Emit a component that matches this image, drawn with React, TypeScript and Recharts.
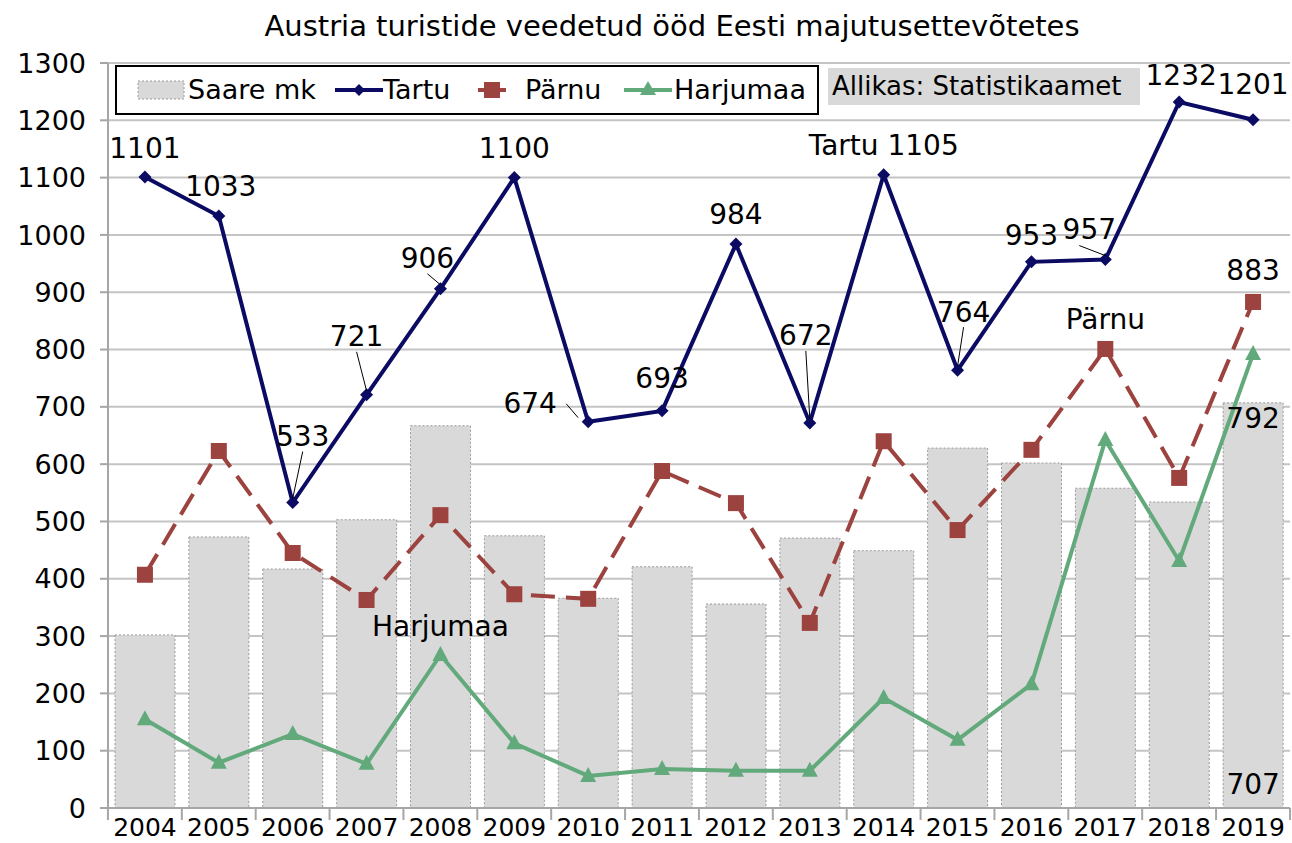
import React from "react";
import {
  ComposedChart,
  Bar,
  Line,
  XAxis,
  YAxis,
  CartesianGrid,
  Legend,
  LabelList,
} from "recharts";

const years = ["2004","2005","2006","2007","2008","2009","2010","2011","2012","2013","2014","2015","2016","2017","2018","2019"];
const saare = [302, 473, 417, 503, 667, 475, 366, 421, 356, 471, 449, 628, 602, 558, 534, 707];
const tartu = [1101, 1033, 533, 721, 906, 1100, 674, 693, 984, 672, 1105, 764, 953, 957, 1232, 1201];
const parnu = [407, 623, 445, 363, 511, 373, 365, 588, 532, 323, 640, 485, 625, 801, 576, 883];
const harju = [155, 79, 129, 77, 267, 113, 56, 68, 65, 65, 192, 119, 216, 642, 431, 792];
const yTicks = [0,100,200,300,400,500,600,700,800,900,1000,1100,1200,1300];

const data = years.map((y, i) => ({
  year: y,
  saare: saare[i],
  tartu: tartu[i],
  parnu: parnu[i],
  harju: harju[i],
}));

const FONT = "'DejaVu Sans', sans-serif";
const C_TARTU = "#0b0b63";
const C_PARNU = "#9c423f";
const C_HARJU = "#62a97b";
const C_BAR = "#d9d9d9";
const FS = 28;

// label placement: [dx, dy, leader]
const tartuLabelPos: [number, number, boolean][] = [
  [0, -29, false], [2, -30, false], [10, -66, true], [-10, -58, true],
  [-13, -30, true], [0, -29, false], [-58, -18, true], [0, -32, false],
  [0, -30, false], [-4, -87, true], [0, -29, false], [6, -58, true],
  [0, -26, false], [-16, -30, true], [2, -26, false], [0, -35, false],
];

const Diamond = (props: any) => {
  const { cx, cy } = props;
  if (cx == null || cy == null) return null;
  const s = 6.5;
  return <polygon points={`${cx},${cy - s} ${cx + s},${cy} ${cx},${cy + s} ${cx - s},${cy}`} fill={C_TARTU} />;
};
const Square = (props: any) => {
  const { cx, cy } = props;
  if (cx == null || cy == null) return null;
  return <rect x={cx - 8} y={cy - 8} width={16} height={16} fill={C_PARNU} />;
};
const Triangle = (props: any) => {
  const { cx, cy } = props;
  if (cx == null || cy == null) return null;
  return <polygon points={`${cx},${cy - 9} ${cx + 8},${cy + 6} ${cx - 8},${cy + 6}`} fill={C_HARJU} />;
};

const T = (p: { x: number; y: number; children: any }) => (
  <text x={p.x} y={p.y} textAnchor="middle" dominantBaseline="central" fontFamily={FONT} fontSize={FS} fill="#000">{p.children}</text>
);

const tartuLabel = (props: any) => {
  const { x, y, value, index } = props;
  const [dx, dy, leader] = tartuLabelPos[index];
  const text = index === 10 ? `Tartu ${value}` : `${value}`;
  const lx = x + dx;
  const ly = y + dy;
  let line = null;
  if (leader) {
    let x1 = lx, y1 = ly + 15;
    if (index === 6) { x1 = lx + 36; y1 = ly; }
    if (index === 13) { x1 = lx - 10; y1 = ly + 16; }
    line = <line x1={x1} y1={y1} x2={x - (index === 6 ? 10 : 0)} y2={y - 4} stroke="#000" strokeWidth={1} />;
  }
  return (
    <g>
      {line}
      <T x={lx} y={ly}>{text}</T>
    </g>
  );
};

const parnuLabel = (props: any) => {
  const { x, y, value, index } = props;
  if (index === 13) return <T x={x} y={y - 29}>Pärnu</T>;
  if (index === 15) return <T x={x} y={y - 31}>{value}</T>;
  return null;
};

const harjuLabel = (props: any) => {
  const { x, y, value, index } = props;
  if (index === 4) return <T x={x} y={y - 28}>Harjumaa</T>;
  if (index === 15) return <T x={x} y={y + 64}>{value}</T>;
  return null;
};

const barLabel = (props: any) => {
  const { x, y, width, height, value, index } = props;
  if (index !== 15) return null;
  return <T x={x + width / 2} y={y + height - 24}>{value}</T>;
};

const XTick = (props: any) => {
  const { x, y, payload, index } = props;
  const half = 37;
  return (
    <g>
      <line x1={x - half} y1={y - 8} x2={x - half} y2={y + 4} stroke="#a6a6a6" strokeWidth={2} />
      {index === years.length - 1 && <line x1={x + half} y1={y - 8} x2={x + half} y2={y + 4} stroke="#a6a6a6" strokeWidth={2} />}
      <text x={x} y={y + 11} textAnchor="middle" dominantBaseline="central" fontFamily={FONT} fontSize={25} fill="#000">{payload.value}</text>
    </g>
  );
};

const legText: React.CSSProperties = { position: "absolute", top: 0, lineHeight: "46px", whiteSpace: "nowrap" };

const LegendBox = () => (
  <div style={{
    position: "absolute", left: 115, top: 65, width: 700, height: 46,
    border: "2px solid #000", background: "#fff",
    fontFamily: FONT, fontSize: 27, color: "#000", boxSizing: "content-box",
  }}>
    <svg width={50} height={24} style={{ position: "absolute", left: 20, top: 11 }}>
      <rect x={1} y={3} width={46} height={18} fill={C_BAR} stroke="#9a9a9a" strokeDasharray="2 2" />
    </svg>
    <span style={{ ...legText, left: 71 }}>Saare mk</span>
    <svg width={50} height={24} style={{ position: "absolute", left: 217, top: 11 }}>
      <line x1={1} y1={12} x2={49} y2={12} stroke={C_TARTU} strokeWidth={4} />
      <polygon points="25,6 31,12 25,18 19,12" fill={C_TARTU} />
    </svg>
    <span style={{ ...legText, left: 266 }}>Tartu</span>
    <svg width={30} height={24} style={{ position: "absolute", left: 360, top: 11 }}>
      <line x1={1} y1={12} x2={29} y2={12} stroke={C_PARNU} strokeWidth={4} />
      <rect x={7} y={4} width={16} height={16} fill={C_PARNU} />
    </svg>
    <span style={{ ...legText, left: 408 }}>Pärnu</span>
    <svg width={50} height={24} style={{ position: "absolute", left: 506, top: 11 }}>
      <line x1={1} y1={12} x2={49} y2={12} stroke={C_HARJU} strokeWidth={4} />
      <polygon points="25,3 33,17 17,17" fill={C_HARJU} />
    </svg>
    <span style={{ ...legText, left: 557 }}>Harjumaa</span>
  </div>
);

export default function App() {
  return (
    <div style={{ position: "absolute", left: 0, top: 0, width: 1292, height: 843, background: "#fff" }}>
      <div style={{
        position: "absolute", left: 0, top: 9, width: 1344, textAlign: "center",
        fontFamily: FONT, fontSize: 29, color: "#000", whiteSpace: "nowrap",
      }}>Austria turistide veedetud ööd Eesti majutusettevõtetes</div>
      <ComposedChart
        width={1292}
        height={843}
        data={data}
        margin={{ top: 63, right: 2, bottom: 5, left: 0 }}
      >
        <CartesianGrid vertical={false} stroke="#c4c4c4" strokeWidth={2} />
        <XAxis
          dataKey="year"
          axisLine={{ stroke: "#a6a6a6", strokeWidth: 2 }}
          tickLine={false}
          tick={<XTick />}
          interval={0}
          height={30}
        />
        <YAxis
          domain={[0, 1300]}
          ticks={yTicks}
          interval={0}
          width={108}
          axisLine={{ stroke: "#a6a6a6", strokeWidth: 2 }}
          tickLine={{ stroke: "#a6a6a6", strokeWidth: 2 }}
          tickSize={8}
          tickMargin={14}
          tick={{ fontFamily: FONT, fontSize: 27, fill: "#000" }}
        />
        <Legend content={() => null} />
        <Bar dataKey="saare" name="Saare mk" fill={C_BAR} stroke="#9a9a9a" strokeDasharray="2 2" strokeWidth={1} barSize={60} isAnimationActive={false}>
          <LabelList dataKey="saare" content={barLabel} />
        </Bar>
        <Line dataKey="parnu" name="Pärnu" stroke={C_PARNU} strokeWidth={4} strokeDasharray="24 11" dot={<Square />} activeDot={false} isAnimationActive={false}>
          <LabelList dataKey="parnu" content={parnuLabel} />
        </Line>
        <Line dataKey="harju" name="Harjumaa" stroke={C_HARJU} strokeWidth={4} dot={<Triangle />} activeDot={false} isAnimationActive={false}>
          <LabelList dataKey="harju" content={harjuLabel} />
        </Line>
        <Line dataKey="tartu" name="Tartu" stroke={C_TARTU} strokeWidth={4} dot={<Diamond />} activeDot={false} isAnimationActive={false}>
          <LabelList dataKey="tartu" content={tartuLabel} />
        </Line>
      </ComposedChart>
      <LegendBox />
      <div style={{
        position: "absolute", left: 828, top: 68, width: 312, height: 37, background: C_BAR,
        fontFamily: FONT, fontSize: 26, color: "#000", lineHeight: "37px", paddingLeft: 4, boxSizing: "border-box", whiteSpace: "nowrap",
      }}>Allikas: Statistikaamet</div>
    </div>
  );
}
